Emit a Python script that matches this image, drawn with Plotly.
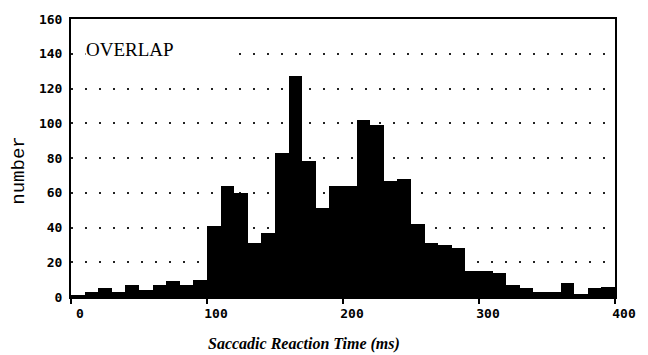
import plotly.graph_objects as go

# Histogram data: 10 ms bins from 0 to 400 ms
bin_starts = list(range(0, 400, 10))
counts = [1, 3, 5, 3, 7, 4, 7, 9, 7, 10,
          41, 64, 60, 31, 37, 83, 127, 78, 51, 64,
          64, 102, 99, 67, 68, 42, 31, 30, 28, 15,
          15, 14, 7, 5, 3, 3, 8, 2, 5, 6]
bin_width = 10
x_ticks = [0, 100, 200, 300, 400]
y_ticks = [0, 20, 40, 60, 80, 100, 120, 140, 160]
condition_label = "OVERLAP"
x_title = "Saccadic Reaction Time (ms)"
y_title = "number"

centers = [s + bin_width / 2 for s in bin_starts]

fig = go.Figure()
fig.add_trace(go.Bar(
    x=centers, y=counts, width=[bin_width] * len(counts),
    marker=dict(color="black", line=dict(width=0)),
    hoverinfo="x+y",
))

tick_font = dict(family="DejaVu Sans Mono", size=13, color="black", weight="bold")

fig.update_layout(
    width=648, height=355,
    margin=dict(l=71, r=23, t=13, b=58),
    paper_bgcolor="white", plot_bgcolor="white",
    showlegend=False, bargap=0,
    xaxis=dict(
        range=[0, 400], tickvals=x_ticks, ticktext=[str(v) for v in x_ticks],
        showgrid=False, zeroline=False,
        showline=True, mirror=True, linecolor="black", linewidth=2,
        ticks="outside", ticklen=5, tickwidth=1.5, tickcolor="black",
        tickfont=tick_font, ticklabelshift=9, ticklabelstandoff=-2,
    ),
    yaxis=dict(
        range=[0, 160], tickvals=y_ticks, ticktext=[str(v) for v in y_ticks],
        showgrid=True, gridcolor="#222", gridwidth=2, griddash="2px,12px",
        zeroline=False,
        showline=True, mirror=True, linecolor="black", linewidth=2,
        ticks="", tickfont=tick_font, ticklabelstandoff=4,
    ),
    annotations=[
        dict(text=condition_label, xref="x", yref="y", x=10, y=142.5,
             xanchor="left", yanchor="middle", showarrow=False,
             font=dict(family="Liberation Serif", size=19, color="black"),
             bgcolor="white", width=150, align="left", borderpad=0),
        dict(text=x_title, xref="paper", yref="paper", x=0.428, y=-0.168,
             xanchor="center", yanchor="middle", showarrow=False,
             font=dict(family="Liberation Serif", size=16, color="black",
                       style="italic", weight="bold")),
        dict(text=y_title, xref="paper", yref="paper", x=-0.0957, y=0.454,
             xanchor="center", yanchor="middle", showarrow=False, textangle=-90,
             font=dict(family="Liberation Mono", size=19, color="black")),
    ],
)

fig.write_html("out.html")
